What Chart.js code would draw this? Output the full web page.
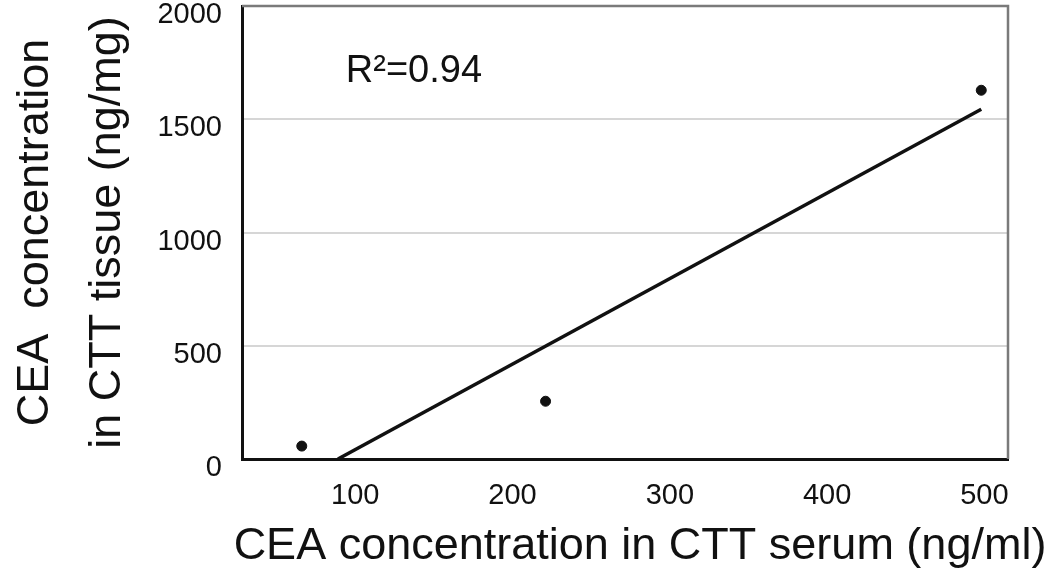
<!DOCTYPE html>
<html>
<head>
<meta charset="utf-8">
<script src="https://cdn.jsdelivr.net/npm/chart.js@4"></script>
<style>
  html, body { margin: 0; padding: 0; background: #fff; }
  #wrap { width: 1050px; height: 568px; }
</style>
</head>
<body>
<div id="wrap"><canvas id="cea-chart"></canvas></div>
<script>
// values
const serumValues = [66, 221, 498];     // ng/ml
const tissueValues = [57, 255, 1628];   // ng/mg
const trendX = [89, 498];
const trendY = [0, 1544];
const xTicks = [100, 200, 300, 400, 500];
const yTicks = [0, 500, 1000, 1500, 2000];
const r2Text = 'R\u00b2=0.94';
const r2Pos = { x: 94, y: 1711 };
const xTitle = 'CEA concentration in CTT serum (ng/ml)';

const FONT = "'Liberation Sans', Arial, sans-serif";

const points = serumValues.map((x, i) => ({ x: x, y: tissueValues[i] }));
const trend = trendX.map((x, i) => ({ x: x, y: trendY[i] }));

// top/right frame, R² label, and the x title (wider than the plot, so drawn here)
const framePlugin = {
  id: 'frame',
  afterDraw(chart) {
    const { ctx, chartArea: a, scales } = chart;
    ctx.save();
    ctx.strokeStyle = '#7a7a7a';
    ctx.lineWidth = 2.5;
    ctx.beginPath();
    ctx.moveTo(a.left, a.top);
    ctx.lineTo(a.right, a.top);
    ctx.lineTo(a.right, a.bottom);
    ctx.stroke();
    ctx.fillStyle = '#111';
    ctx.font = '38px ' + FONT;
    ctx.textBaseline = 'middle';
    ctx.fillText(r2Text, scales.x.getPixelForValue(r2Pos.x), scales.y.getPixelForValue(r2Pos.y));
    ctx.font = '45px ' + FONT;
    ctx.textAlign = 'center';
    ctx.textBaseline = 'alphabetic';
    ctx.fillText(xTitle, chart.width / 2 + 115, chart.height - 9);
    ctx.restore();
  }
};

const ctx = document.getElementById('cea-chart').getContext('2d');
new Chart(ctx, {
  type: 'scatter',
  data: {
    datasets: [{
      data: points,
      backgroundColor: '#111',
      borderColor: '#111',
      pointRadius: 5,
      pointHoverRadius: 5
    }, {
      type: 'line',
      data: trend,
      borderColor: '#111',
      borderWidth: 3.5,
      pointRadius: 0,
      fill: false
    }]
  },
  options: {
    responsive: true,
    maintainAspectRatio: false,
    animation: false,
    layout: { padding: { left: 0, right: 42, top: 5, bottom: 0 } },
    plugins: { legend: { display: false }, tooltip: { enabled: false } },
    scales: {
      x: {
        type: 'linear',
        min: 28,
        max: 515,
        afterBuildTicks: (scale) => { scale.ticks = xTicks.map(v => ({ value: v })); },
        afterFit: (scale) => {
          scale.height = 109;
          scale.paddingLeft = 0;
          scale.paddingRight = 0;
        },
        grid: { display: false, drawTicks: false },
        border: { color: '#111', width: 3 },
        ticks: {
          color: '#111', font: { family: FONT, size: 29 }, padding: 20, maxRotation: 0,
          callback: (v) => String(v)
        },
        title: { display: false }
      },
      y: {
        min: 0,
        max: 2000,
        afterBuildTicks: (scale) => { scale.ticks = yTicks.map(v => ({ value: v })); },
        afterFit: (scale) => {
          scale.width = 242;
          scale.paddingTop = 0;
          scale.paddingBottom = 0;
        },
        grid: { color: '#d6d6d6', lineWidth: 2, drawTicks: false },
        border: { color: '#111', width: 3 },
        ticks: {
          color: '#111', font: { family: FONT, size: 29 }, padding: 20, labelOffset: 9,
          callback: (v) => String(v)
        },
        title: {
          display: true,
          text: ['CEA  concentration', 'in CTT tissue (ng/mg)'],
          color: '#111',
          font: { family: FONT, size: 45, lineHeight: 1.6 },
          padding: { top: 0, bottom: 0 }
        }
      }
    }
  },
  plugins: [framePlugin]
});
</script>
</body>
</html>
